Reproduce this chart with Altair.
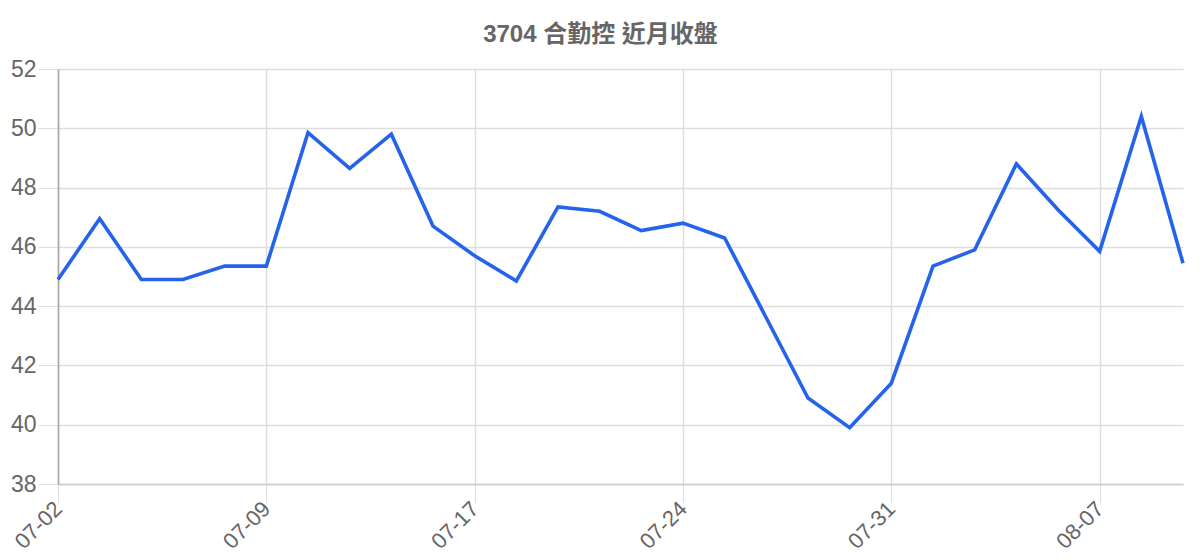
import altair as alt
import pandas as pd

dates = ["07-02", "07-03", "07-04", "07-05", "07-08", "07-09", "07-10", "07-11",
         "07-12", "07-16", "07-17", "07-18", "07-19", "07-22", "07-23", "07-24",
         "07-25", "07-26", "07-29", "07-30", "07-31", "08-01", "08-02", "08-05",
         "08-06", "08-07", "08-08", "08-09"]
closes = [44.9, 46.95, 44.9, 44.9, 45.35, 45.35, 49.85, 48.65,
          49.8, 46.7, 45.7, 44.85, 47.35, 47.2, 46.55, 46.8,
          46.3, 43.6, 40.9, 39.9, 41.4, 45.35, 45.9, 48.8,
          47.25, 45.85, 50.4, 45.45]
label_dates = ["07-02", "07-09", "07-17", "07-24", "07-31", "08-07"]
title_text = "3704 合勤控 近月收盤"

df = pd.DataFrame({"date": dates, "close": closes})

FONT = "'Liberation Sans', 'Noto Sans CJK TC', sans-serif"

chart = alt.Chart(df).mark_line(color="#2563EB", strokeWidth=3.6).encode(
    x=alt.X("date:O", sort=dates,
            scale=alt.Scale(type="point", padding=0),
            axis=alt.Axis(title=None, values=label_dates, labelAngle=-45,
                          labelAlign="right", labelBaseline="middle",
                          labelFontSize=22, labelColor="#666", labelFont=FONT,
                          labelPadding=3, tickSize=18, tickColor="#dddddd",
                          domainColor="#cccccc", domainWidth=1.5,
                          gridColor="#dddddd", grid=True, labelOverlap=False)),
    y=alt.Y("close:Q", scale=alt.Scale(domain=[38, 52], nice=False, zero=False),
            axis=alt.Axis(title=None, values=[38, 40, 42, 44, 46, 48, 50, 52],
                          labelFontSize=23, labelColor="#666", labelFont=FONT,
                          labelPadding=2, tickSize=20, tickColor="#dddddd",
                          domainColor="#a8a8a8", domainWidth=1.6,
                          gridColor="#dddddd", grid=True)),
).properties(
    width=1125,
    height=415,
    title=alt.TitleParams(title_text, fontSize=24, fontWeight="bold", color="#666",
                          font=FONT, anchor="middle", offset=11, dx=-20),
    autosize=alt.AutoSizeParams(type="none"),
    padding={"left": 50, "top": 61, "right": 9, "bottom": 76},
).configure_view(stroke=None).configure_axis(gridWidth=1.5)

chart.save("out.html", embed_options={"renderer": "svg", "actions": False})
